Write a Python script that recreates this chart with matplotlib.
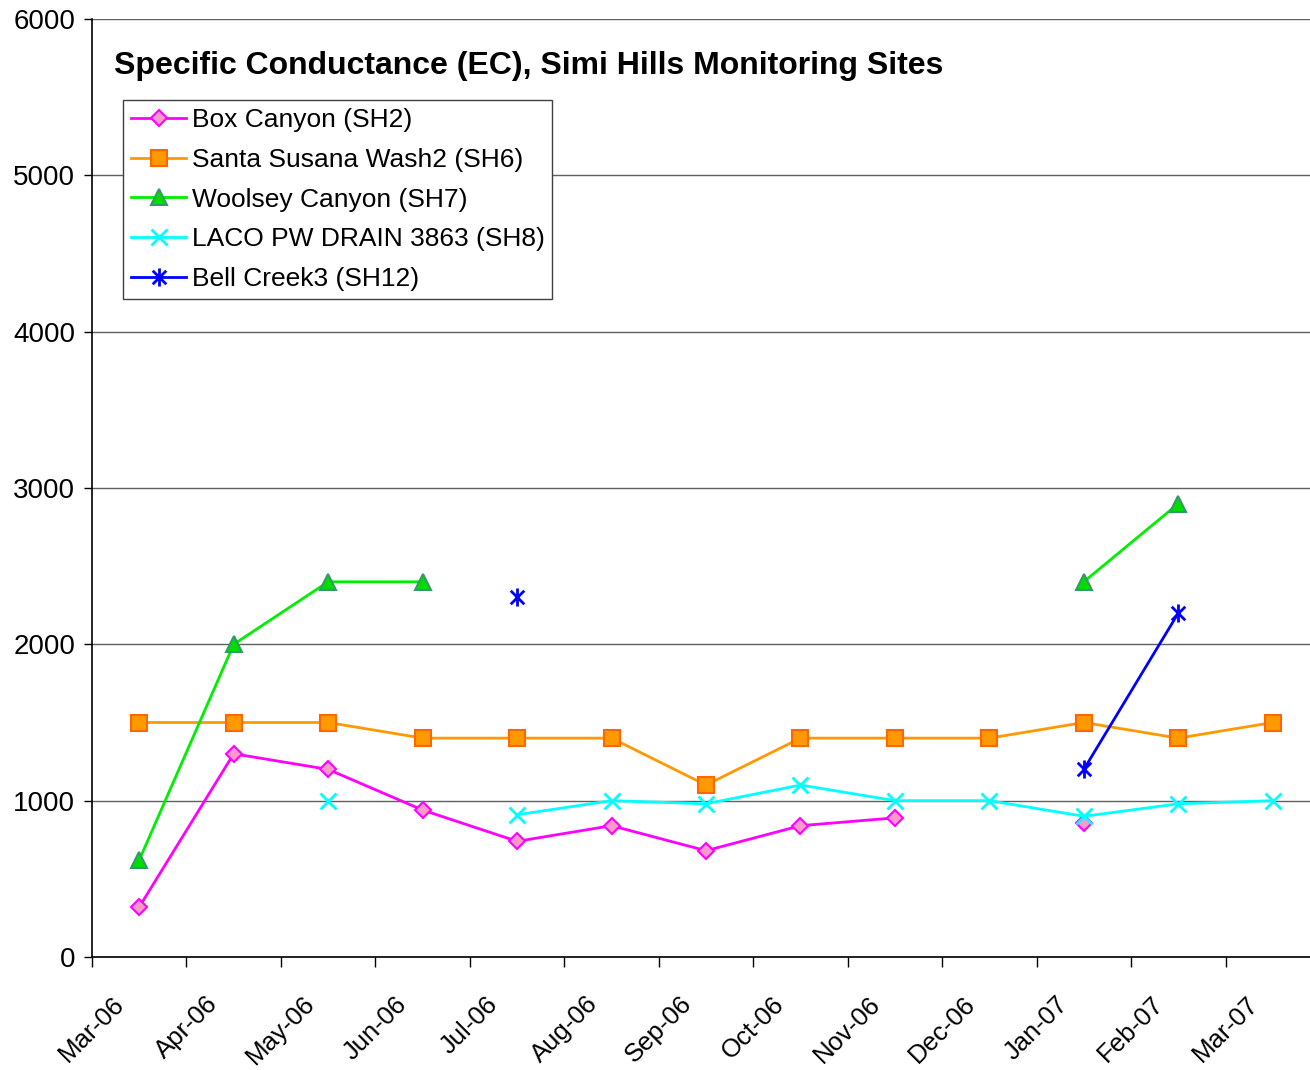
import numpy as np
import matplotlib
matplotlib.use('Agg')
import matplotlib.pyplot as plt
from matplotlib.path import Path

nan = np.nan

months = ['Mar-06', 'Apr-06', 'May-06', 'Jun-06', 'Jul-06', 'Aug-06', 'Sep-06',
          'Oct-06', 'Nov-06', 'Dec-06', 'Jan-07', 'Feb-07', 'Mar-07']

box_canyon = [320, 1300, 1200, 940, 740, 840, 680, 840, 890, nan, 860, nan, nan]
santa_susana = [1500, 1500, 1500, 1400, 1400, 1400, 1100, 1400, 1400, 1400, 1500, 1400, 1500]
woolsey = [620, 2000, 2400, 2400, nan, nan, nan, nan, nan, nan, 2400, 2900, nan]
laco = [nan, nan, 1000, nan, 910, 1000, 980, 1100, 1000, 1000, 900, 980, 1000]
bell_creek = [nan, nan, nan, nan, 2300, nan, nan, nan, nan, nan, 1200, 2200, nan]

series_names = ['Box Canyon (SH2)', 'Santa Susana Wash2 (SH6)', 'Woolsey Canyon (SH7)',
                'LACO PW DRAIN 3863 (SH8)', 'Bell Creek3 (SH12)']

plt.rcParams['font.family'] = ['Liberation Sans', 'DejaVu Sans']

# excel style asterisk: an x with a vertical bar through it
star = Path([(0, -1), (0, 1), (-0.75, -0.75), (0.75, 0.75), (-0.75, 0.75), (0.75, -0.75)],
            [Path.MOVETO, Path.LINETO, Path.MOVETO, Path.LINETO, Path.MOVETO, Path.LINETO])

fig = plt.figure(figsize=(13.1, 10.7), dpi=100)
ax = fig.add_axes([92 / 1310, 113 / 1070, 1228 / 1310, 938 / 1070])

x = np.arange(len(months)) + 0.5

ax.plot(x, box_canyon, color='#FF00FF', lw=2, marker='D', ms=8,
        mfc='#FF99CC', mec='#FF00FF', mew=1.5, label=series_names[0], zorder=3)
ax.plot(x, santa_susana, color='#FF9900', lw=2, marker='s', ms=11,
        mfc='#FF9900', mec='#FF6600', mew=1.5, label=series_names[1], zorder=3)
ax.plot(x, woolsey, color='#00EE00', lw=2, marker='^', ms=12,
        mfc='#00DD00', mec='#339966', mew=1.5, label=series_names[2], zorder=3)
ax.plot(x, laco, color='#00FFFF', lw=2, marker='x', ms=11,
        mec='#00FFFF', mew=2, label=series_names[3], zorder=3)
ax.plot(x, bell_creek, color='#0000FF', lw=2, marker=star, ms=13,
        mec='#0000FF', mew=2, label=series_names[4], zorder=3)

ax.set_xlim(0, len(months))
ax.set_ylim(0, 6000)
ax.set_xticks(np.arange(len(months)))
ax.set_xticklabels(months, rotation=45, ha='center', fontsize=18.5)
ax.set_yticks(np.arange(0, 6001, 1000))
ax.tick_params(axis='y', labelsize=20, length=6, width=1, direction='out', pad=6)
ax.tick_params(axis='x', length=7, width=1, direction='out', pad=18)

ax.grid(axis='y', color='#606060', lw=1)
ax.set_axisbelow(True)
for side in ['top', 'right']:
    ax.spines[side].set_visible(False)
ax.spines['left'].set_linewidth(1.2)
ax.spines['bottom'].set_linewidth(1.2)

ax.text(22 / 1228, 1 - 47 / 938, 'Specific Conductance (EC), Simi Hills Monitoring Sites',
        transform=ax.transAxes, fontsize=23, fontweight='bold', va='center', ha='left')

leg = ax.legend(loc='upper left', bbox_to_anchor=(123 / 1310, 1 - 100 / 1070),
                bbox_transform=fig.transFigure, fontsize=19, frameon=True, fancybox=False,
                borderaxespad=0, handlelength=2.1, handletextpad=0.2, borderpad=0.3,
                labelspacing=0.6, framealpha=1)
leg.get_frame().set_edgecolor('#404040')
leg.get_frame().set_linewidth(1)

plt.savefig('out.png', dpi=100)
